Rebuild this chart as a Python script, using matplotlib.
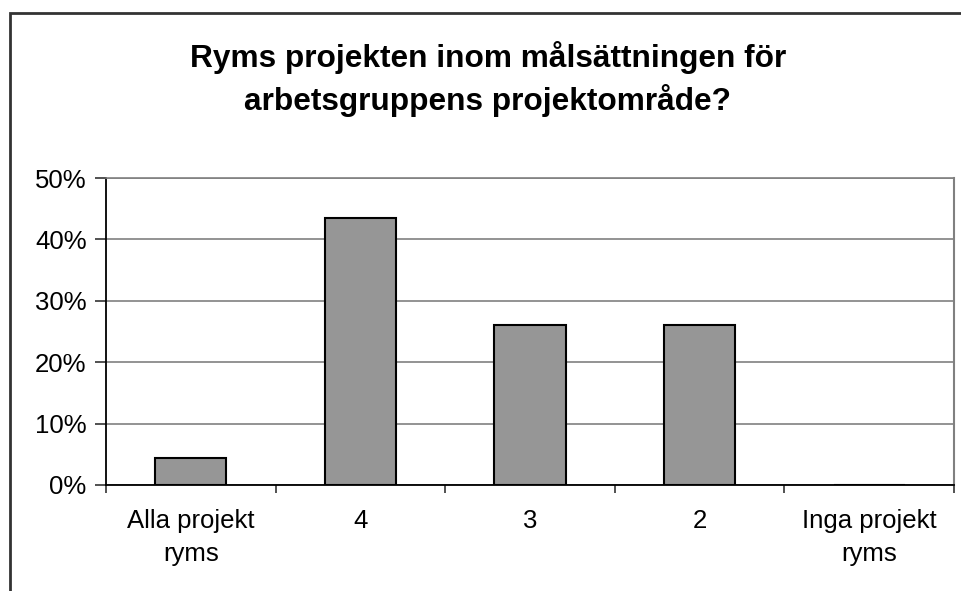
import matplotlib.pyplot as plt
import matplotlib.patches as patches
from matplotlib.ticker import FixedLocator, PercentFormatter

# Data
categories = ['Alla projekt\nryms', '4', '3', '2', 'Inga projekt\nryms']
shares = [4.35, 43.48, 26.09, 26.09, 0.0]

plt.rcParams['font.family'] = ['Liberation Sans', 'DejaVu Sans']

fig = plt.figure(figsize=(9.62, 5.91), dpi=100)
ax = fig.add_axes([106 / 962, 1 - 485 / 591, 848 / 962, 307 / 591])

# outer chart border (cropped at right and bottom like the original)
fig.patches.append(patches.Rectangle((10 / 962, -0.1), 1.0, 1 - 13 / 591 + 0.1,
                                     transform=fig.transFigure, fill=False,
                                     edgecolor='#333333', linewidth=2.0, clip_on=False))

x = range(len(categories))
ax.bar(x, shares, width=0.42, color='#969696', edgecolor='black', linewidth=1.5, zorder=3)

ax.set_xlim(-0.5, len(categories) - 0.5)
ax.set_ylim(0, 50)
ax.set_yticks([0, 10, 20, 30, 40, 50])
ax.yaxis.set_major_formatter(PercentFormatter(decimals=0))
ax.grid(axis='y', color='#808080', linewidth=1.2, zorder=0)

ax.set_xticks(list(x))
ax.set_xticklabels(categories, fontsize=18.5, linespacing=1.5)
ax.xaxis.set_minor_locator(FixedLocator([i - 0.5 for i in range(len(categories) + 1)]))
ax.tick_params(axis='x', which='major', length=0, pad=17)
ax.tick_params(axis='x', which='minor', length=6, width=1.2, color='#333333', direction='out')
ax.tick_params(axis='y', length=8, width=1.2, color='#333333', direction='out', labelsize=18.5, pad=6)

for side in ['left', 'bottom']:
    ax.spines[side].set_color('black')
    ax.spines[side].set_linewidth(1.3)
ax.spines['right'].set_color('#808080')
ax.spines['right'].set_linewidth(1.5)
ax.spines['top'].set_color('#808080')
ax.spines['top'].set_linewidth(1.2)

fig.text(0.507, 1 - 79 / 591, 'Ryms projekten inom målsättningen för\narbetsgruppens projektområde?',
         ha='center', va='center', fontsize=22.8, fontweight='bold', linespacing=1.38)

fig.savefig('out.png', dpi=100)
